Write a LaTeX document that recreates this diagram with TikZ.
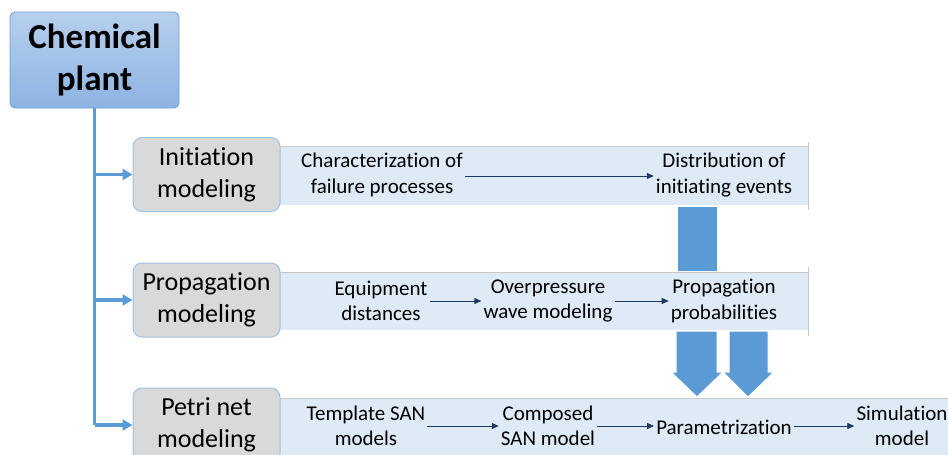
\documentclass[tikz,border=0pt]{standalone}
\usepackage{fontspec}
\setmainfont{Carlito}[Ligatures={NoCommon,NoRequired,NoContextual}, Contextuals=NoAlternate]
\usetikzlibrary{arrows.meta}
\definecolor{trunkblue}{HTML}{5B9BD5}
\definecolor{bandfill}{HTML}{DEEBF7}
\definecolor{boxgray}{HTML}{D9D9D9}
\definecolor{boxline}{HTML}{9DC3E6}
\definecolor{chemtop}{HTML}{B6CFEE}
\definecolor{chembot}{HTML}{8DB4E2}
\definecolor{chemline}{HTML}{6F9FD8}
\definecolor{navy}{HTML}{1F3864}
\definecolor{bandline}{HTML}{C8C8C8}
\tikzset{
  chembox/.style={draw=chemline, line width=0.8pt, rounded corners=5pt, top color=chemtop, bottom color=chembot,
    minimum width=169pt, minimum height=96pt, align=center, inner sep=0pt,
    font=\fontsize{35}{42}\selectfont\bfseries},
  modbox/.style={draw=boxline, line width=1pt, fill=boxgray, rounded corners=9pt,
    minimum width=147pt, minimum height=74pt, align=center, inner sep=0pt,
    font=\fontsize{26}{32}\selectfont},
  bandtext/.style={align=center, inner sep=2pt, font=\fontsize{21}{25.5}\selectfont},
  trunk/.style={draw=trunkblue, line width=3.5pt},
  branch/.style={draw=trunkblue, line width=3.5pt, -{Triangle[length=10pt,width=11pt]}},
  flow/.style={draw=navy, line width=0.8pt, -{Triangle[length=7pt,width=6pt]}},
  bandrect/.style={fill=bandfill},
  bandedge/.style={draw=bandline, line width=0.8pt},
  blockarrow/.style={fill=trunkblue, draw=white, line width=1pt},
}
\begin{document}
\begin{tikzpicture}[x=1pt,y=-1pt]
\useasboundingbox (0,0) rectangle (948,455);
% bands
\fill[bandrect] (279,146) rectangle (808,205);
\draw[bandedge] (279,146) -- (808,146);
\draw[bandedge] (808,142) -- (808,210);
\fill[bandrect] (279,272) rectangle (808,330);
\draw[bandedge] (279,272) -- (808,272);
\draw[bandedge] (808,267) -- (808,336);
\fill[bandrect] (279,398) rectangle (948,460);
\draw[bandedge] (279,398) -- (948,398);
% block arrows
\filldraw[blockarrow] (677,206) rectangle (717,271);
\filldraw[blockarrow] (676,331) -- (717,331) -- (717,372) -- (723,372) -- (697,397) -- (671,372) -- (676,372) -- cycle;
\filldraw[blockarrow] (729,331) -- (768,331) -- (768,372) -- (774,372) -- (748,397) -- (723,372) -- (729,372) -- cycle;
% main boxes
\node[chembox] (chem) at (94.5,60) {Chemical\\plant};
\node[modbox] (init) at (206.5,174.5) {Initiation\\modeling};
\node[modbox] (prop) at (206.5,300) {Propagation\\modeling};
\node[modbox] (petri) at (206.5,425) {Petri net\\modeling};
% trunk and branches
\draw[trunk] (chem.south) -- (chem.south |- petri.west);
\draw[branch] (chem.south |- init.west) -- (init.west);
\draw[branch] (chem.south |- prop.west) -- (prop.west);
\draw[branch] (chem.south |- petri.west) -- (petri.west);
% row 1
\node[bandtext] (char) at (382,175) {Characterization of\\failure processes};
\node[bandtext] (dist) at (724,175) {Distribution of\\initiating events};
\draw[flow] (char.east |- 0,176) -- (dist.west |- 0,176);
% row 2
\node[bandtext] (equip) at (381,301) {Equipment\\distances};
\node[bandtext] (over) at (548,301) {Overpressure\\wave modeling};
\node[bandtext] (pp) at (724,301) {Propagation\\probabilities};
\draw[flow] (equip.east |- 0,301) -- (over.west |- 0,301);
\draw[flow] (over.east |- 0,301) -- (pp.west |- 0,301);
% row 3
\node[bandtext] (tmpl) at (366,426) {Template SAN\\models};
\node[bandtext] (comp) at (548,426) {Composed\\SAN model};
\node[bandtext] (param) at (724,427) {Parametrization};
\node[bandtext] (sim) at (902,426) {Simulation\\model};
\draw[flow] (tmpl.east |- 0,426) -- (comp.west |- 0,426);
\draw[flow] (comp.east |- 0,426) -- (param.west |- 0,426);
\draw[flow] (param.east |- 0,426) -- (sim.west |- 0,426);
\end{tikzpicture}
\end{document}
